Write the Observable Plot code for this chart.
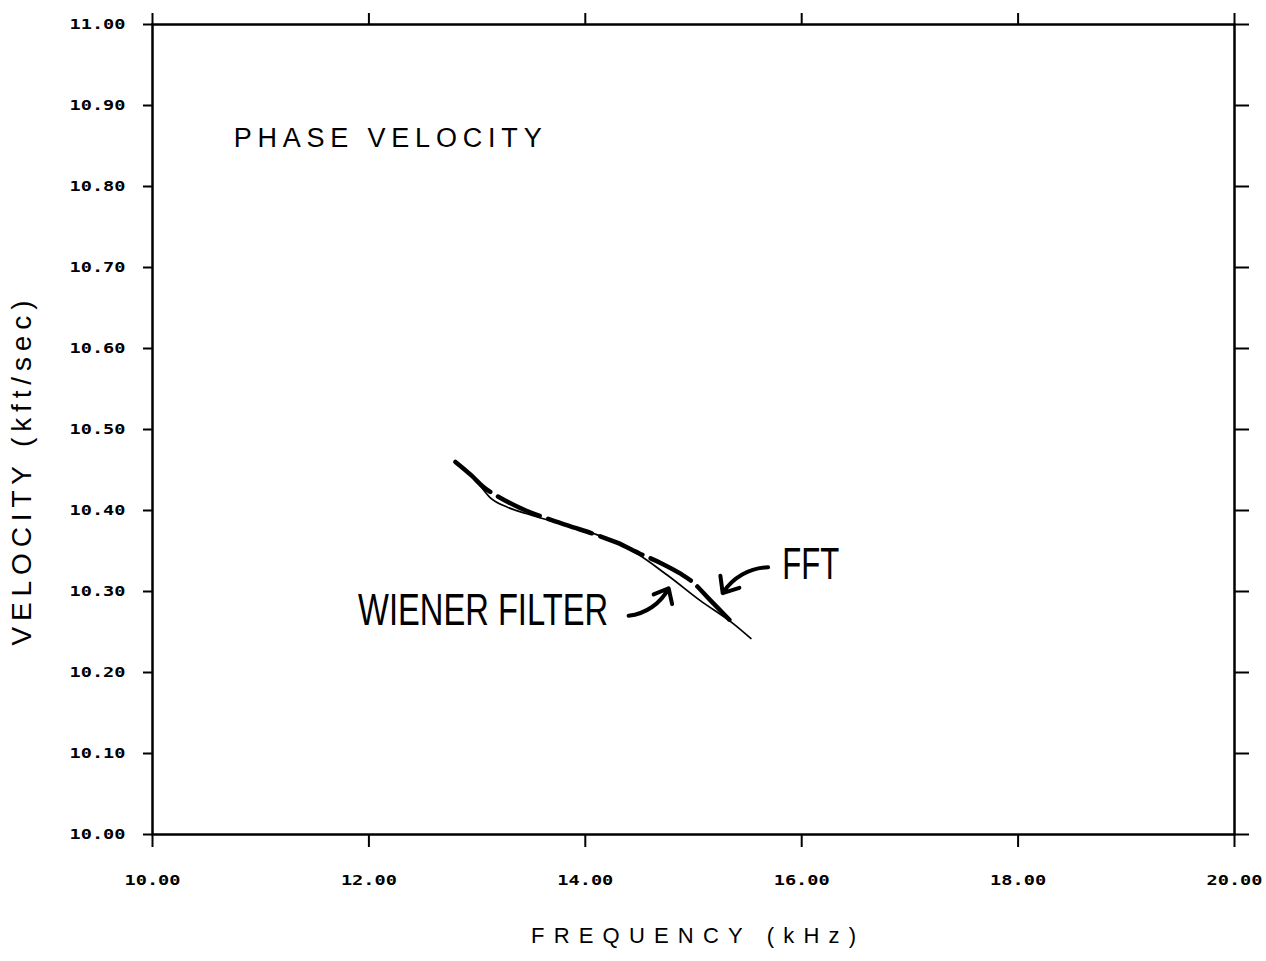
<!DOCTYPE html>
<html><head><meta charset="utf-8">
<script src="https://cdn.jsdelivr.net/npm/d3@7"></script>
<script src="https://cdn.jsdelivr.net/npm/@observablehq/plot@0.6"></script>
<style>body{margin:0;background:#fff}</style>
</head><body><div id="chart"></div>
<script>
// ---- data ----
const xTicks = [10, 12, 14, 16, 18, 20];
const yTicks = [10.0, 10.1, 10.2, 10.3, 10.4, 10.5, 10.6, 10.7, 10.8, 10.9, 11.0];

const wienerFreq = [12.80, 13.00, 13.12, 13.28, 13.46, 13.74, 13.93, 14.17, 14.45, 14.76, 15.06, 15.37, 15.53];
const wienerVel  = [10.460, 10.435, 10.416, 10.404, 10.396, 10.385, 10.378, 10.367, 10.349, 10.320, 10.289, 10.260, 10.242];

const fftFreq = [12.80, 12.95, 13.05, 13.25, 13.45, 13.65, 13.85, 14.10, 14.30, 14.50, 14.70, 14.88, 14.98, 15.15, 15.34];
const fftVel  = [10.460, 10.443, 10.430, 10.413, 10.400, 10.390, 10.381, 10.370, 10.360, 10.347, 10.335, 10.322, 10.313, 10.290, 10.264];

const noteText = ["PHASE VELOCITY"];
const noteFreq = [10.75];
const noteVel  = [10.860];

const seriesLabels = ["WIENER FILTER", "FFT"];
const seriesLabelFreq = [11.90, 15.82];
const seriesLabelVel  = [10.276, 10.333];

const arrowFromFreq = [14.40, 15.69];
const arrowFromVel  = [10.270, 10.330];
const arrowToFreq   = [14.77, 15.27];
const arrowToVel    = [10.304, 10.298];

const xTitle = "FREQUENCY (kHz)";
const yTitle = "VELOCITY (kft/sec)";

// ---- tables ----
const wiener = wienerFreq.map((f, i) => ({f, v: wienerVel[i]}));
const fft = fftFreq.map((f, i) => ({f, v: fftVel[i]}));
const notes = noteText.map((t, i) => ({t, f: noteFreq[i], v: noteVel[i]}));
const labels = seriesLabels.map((t, i) => ({t, f: seriesLabelFreq[i], v: seriesLabelVel[i]}));
const arrows = arrowFromFreq.map((f, i) => ({f1: f, v1: arrowFromVel[i], f2: arrowToFreq[i], v2: arrowToVel[i]}));

const fmt = d3.format(".2f");
const tickFont = {fontFamily: "DejaVu Sans Mono", fontSize: 14, fontWeight: "bold"};

const chart = Plot.plot({
  width: 1266, height: 961,
  marginLeft: 152, marginRight: 32, marginTop: 24, marginBottom: 127,
  style: {background: "white", color: "black"},
  x: {domain: [10, 20]},
  y: {domain: [10, 11]},
  marks: [
    Plot.frame({stroke: "black", strokeWidth: 2.5}),
    Plot.axisX({anchor: "bottom", ticks: xTicks, tickSize: 13, tickPadding: 28, tickFormat: fmt, strokeWidth: 2, label: null, ...tickFont}),
    Plot.axisX({anchor: "top", ticks: xTicks, tickSize: 12, tickFormat: () => "", strokeWidth: 2, label: null}),
    Plot.axisY({anchor: "left", ticks: yTicks, tickSize: 9, tickPadding: 18, tickFormat: fmt, strokeWidth: 2, label: null, ...tickFont}),
    Plot.axisY({anchor: "right", ticks: yTicks, tickSize: 14, tickFormat: () => "", strokeWidth: 2, label: null}),
    Plot.line(wiener, {x: "f", y: "v", stroke: "black", strokeWidth: 1.7, curve: "monotone-x"}),
    Plot.line(fft, {x: "f", y: "v", stroke: "black", strokeWidth: 4.5, strokeDasharray: "46,9", curve: "monotone-x"}),
    Plot.arrow(arrows, {x1: "f1", y1: "v1", x2: "f2", y2: "v2", bend: -28, stroke: "black", strokeWidth: 4, headLength: 13, headAngle: 80}),
    Plot.text(notes, {x: "f", y: "v", text: "t", textAnchor: "start", fontFamily: "Liberation Sans", fontSize: 27}),
    Plot.text(labels, {x: "f", y: "v", text: "t", textAnchor: "start", fontFamily: "Liberation Sans", fontSize: 44}),
    Plot.text([xTitle], {frameAnchor: "bottom", dy: 108, fontFamily: "Liberation Sans", fontSize: 22}),
    Plot.text([yTitle], {frameAnchor: "left", dx: -130, dy: 216, rotate: -90, textAnchor: "start", fontFamily: "Liberation Sans", fontSize: 28})
  ]
});
document.getElementById("chart").append(chart);

// ---- text widths to match the plotter lettering ----
const widths = new Map([
  ["PHASE VELOCITY", [308, "spacing"]],
  ["WIENER FILTER", [250, "spacingAndGlyphs"]],
  ["FFT", [57, "spacingAndGlyphs"]],
  [xTitle, [325, "spacing"]],
  [yTitle, [345, "spacing"]]
]);
d3.select(chart).selectAll("text").each(function() {
  const t = this.textContent;
  if (widths.has(t)) {
    const [w, adj] = widths.get(t);
    this.setAttribute("textLength", w);
    this.setAttribute("lengthAdjust", adj);
  } else if (/^\d+\.\d\d$/.test(t)) {
    this.setAttribute("textLength", 56);
    this.setAttribute("lengthAdjust", "spacingAndGlyphs");
  }
});
</script>
</body></html>
